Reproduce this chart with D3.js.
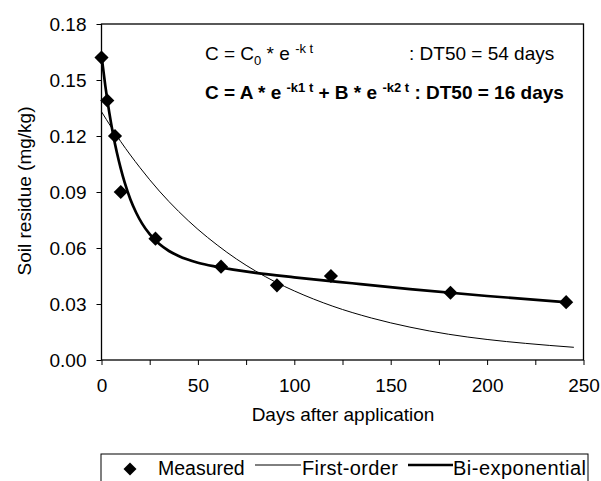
<!DOCTYPE html>
<html lang="en">
<head>
<meta charset="UTF-8">
<title>Soil residue</title>
<script src="https://d3js.org/d3.v7.min.js"></script>
<style>
  body { margin: 0; background: #fff; }
  svg { font-family: "Liberation Sans", Arial, sans-serif; }
</style>
</head>
<body>
<svg width="601" height="481"></svg>
<script>
// measured residues
const measuredDays = [0, 3, 7, 10, 28, 62, 91, 119, 181, 241];
const measuredVals = [0.162, 0.139, 0.120, 0.090, 0.065, 0.050, 0.040, 0.045, 0.036, 0.031];

// first-order fit
const firstDays = [0, 10, 20, 30, 40, 50, 60, 70, 80, 90, 100, 120, 140, 160, 180, 200, 220, 245];
const firstVals = [0.133, 0.117, 0.103, 0.0905, 0.0796, 0.070, 0.0616, 0.0541, 0.0476, 0.0419, 0.0370, 0.0288, 0.0225, 0.0176, 0.0138, 0.0110, 0.0089, 0.0068];

// bi-exponential fit
const biDays = [0, 2, 4, 6, 8, 10, 12, 15, 18, 21, 25, 30, 35, 40, 50, 60, 80, 100, 130, 160, 200, 242];
const biVals = [0.163, 0.1467, 0.1328, 0.121, 0.111, 0.1025, 0.0951, 0.086, 0.0789, 0.0732, 0.0674, 0.0621, 0.0584, 0.0557, 0.0521, 0.0499, 0.0467, 0.0443, 0.0411, 0.038, 0.0343, 0.0309];

const xTicks = [0, 50, 100, 150, 200, 250];
const yTicks = [0, 0.03, 0.06, 0.09, 0.12, 0.15, 0.18];

const svg = d3.select("svg");
const x = d3.scaleLinear().domain([0, 250]).range([101.5, 583.5]);
const y = d3.scaleLinear().domain([0, 0.18]).range([360, 24]);

// frame
svg.append("rect")
  .attr("x", x(0)).attr("y", y(0.18))
  .attr("width", x(250) - x(0)).attr("height", y(0) - y(0.18))
  .attr("fill", "none").attr("stroke", "#000").attr("stroke-width", 1.3);

const xAxis = svg.append("g")
  .attr("transform", `translate(0,${y(0)})`)
  .call(d3.axisBottom(x).tickValues(d3.range(0, 251, 25)).tickSize(5)
    .tickFormat(d => xTicks.includes(d) ? d : ""));
const yAxis = svg.append("g")
  .attr("transform", `translate(${x(0)},0)`)
  .call(d3.axisLeft(y).tickValues(yTicks).tickSize(5).tickFormat(d3.format(".2f")));
[xAxis, yAxis].forEach(g => {
  g.select(".domain").remove();
  g.selectAll("line").attr("stroke", "#000").attr("stroke-width", 1);
  g.selectAll("text").attr("font-size", 19).attr("fill", "#000")
    .attr("font-family", "Liberation Sans, Arial, sans-serif");
});
xAxis.selectAll("text").attr("y", 32).attr("dy", null);
yAxis.selectAll("text").attr("x", -15);

// curves
const line = d3.line().x(d => x(d[0])).y(d => y(d[1])).curve(d3.curveMonotoneX);
svg.append("path").datum(d3.zip(firstDays, firstVals))
  .attr("d", line).attr("fill", "none").attr("stroke", "#000").attr("stroke-width", 1);
svg.append("path").datum(d3.zip(biDays, biVals))
  .attr("d", line).attr("fill", "none").attr("stroke", "#000").attr("stroke-width", 2.7);

// points (square turned 45 degrees)
const diamond = d3.symbol().type(d3.symbolSquare).size(100);
svg.selectAll("path.pt").data(d3.zip(measuredDays, measuredVals)).enter().append("path")
  .attr("class", "pt")
  .attr("d", diamond)
  .attr("transform", d => `translate(${x(d[0])},${y(d[1])}) rotate(45)`)
  .attr("fill", "#000");

// axis titles
svg.append("text").attr("x", 343).attr("y", 421).attr("text-anchor", "middle")
  .attr("font-size", 19).text("Days after application");
svg.append("text").attr("transform", "translate(31,191) rotate(-90)")
  .attr("text-anchor", "middle").attr("font-size", 19).text("Soil residue (mg/kg)");

// equations
const eq1 = svg.append("text").attr("x", 205).attr("y", 60).attr("font-size", 19);
eq1.append("tspan").text("C = C");
eq1.append("tspan").attr("font-size", 13).attr("dy", 5).text("0");
eq1.append("tspan").attr("dy", -5).text(" * e ");
eq1.append("tspan").attr("font-size", 13).attr("dy", -7).text("-k t");
svg.append("text").attr("x", 409).attr("y", 60).attr("font-size", 19).text(": DT50 = 54 days");

const eq2 = svg.append("text").attr("x", 205).attr("y", 99).attr("font-size", 19).attr("font-weight", "bold");
eq2.append("tspan").text("C = A * e ");
eq2.append("tspan").attr("font-size", 13).attr("dy", -7).text("-k1 t");
eq2.append("tspan").attr("dy", 7).text(" + B * e ");
eq2.append("tspan").attr("font-size", 13).attr("dy", -7).text("-k2 t");
eq2.append("tspan").attr("dy", 7).text(" : DT50 = 16 days");

// legend
const leg = svg.append("g");
leg.append("rect").attr("x", 101).attr("y", 454).attr("width", 487).attr("height", 40)
  .attr("fill", "none").attr("stroke", "#000").attr("stroke-width", 1);
leg.append("path").attr("d", d3.symbol().type(d3.symbolSquare).size(85))
  .attr("transform", "translate(130,469) rotate(45)").attr("fill", "#000");
leg.append("text").attr("x", 158).attr("y", 475).attr("font-size", 19.5).text("Measured");
leg.append("line").attr("x1", 255).attr("x2", 301).attr("y1", 465).attr("y2", 465)
  .attr("stroke", "#000").attr("stroke-width", 1);
leg.append("text").attr("x", 302).attr("y", 475).attr("font-size", 20).attr("textLength", 96).text("First-order");
leg.append("line").attr("x1", 408).attr("x2", 453).attr("y1", 465).attr("y2", 465)
  .attr("stroke", "#000").attr("stroke-width", 2.6);
leg.append("text").attr("x", 453).attr("y", 475).attr("font-size", 20).attr("textLength", 133).text("Bi-exponential");
</script>
</body>
</html>
